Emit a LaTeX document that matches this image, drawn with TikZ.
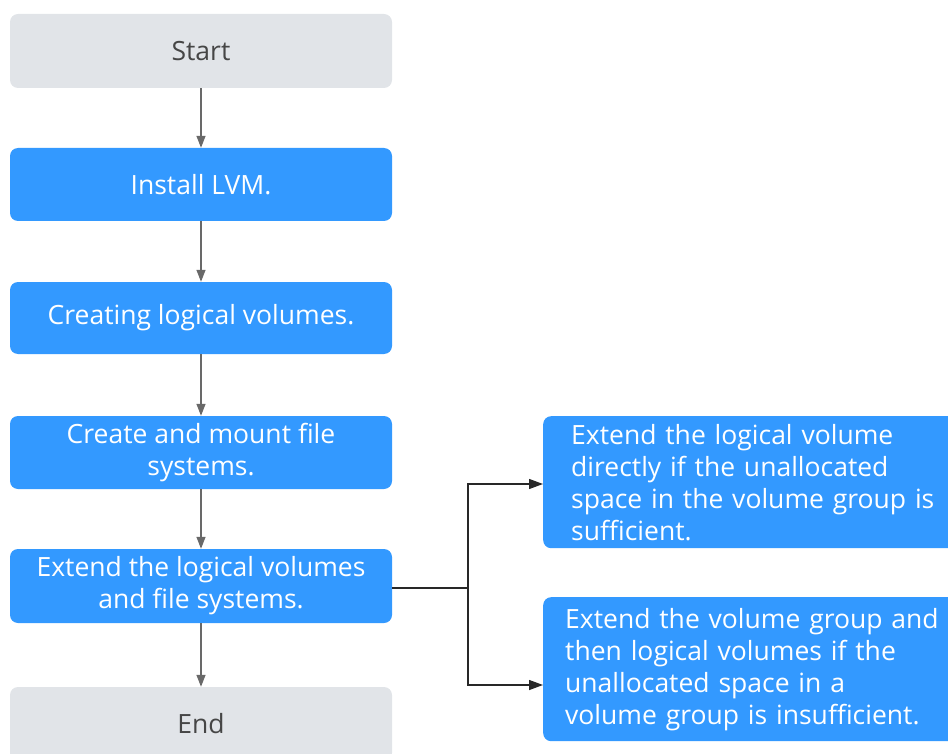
\documentclass[tikz,border=0pt]{standalone}
\usepackage{fontspec}
\setmainfont{Open Sans}
\usetikzlibrary{arrows.meta}
\definecolor{boxblue}{RGB}{51,153,255}
\definecolor{boxgray}{RGB}{225,228,232}
\definecolor{txtgray}{RGB}{70,70,70}
\definecolor{arrgray}{RGB}{105,105,105}
\definecolor{arrdark}{RGB}{40,40,40}
\begin{document}
\begin{tikzpicture}[x=1pt,y=-1pt,
  base/.style={rectangle,rounded corners=8pt,minimum width=382pt,inner sep=0pt,align=center,font=\fontsize{26.5}{32}\selectfont},
  bluebox/.style={base,fill=boxblue,text=white},
  graybox/.style={base,fill=boxgray,text=txtgray},
  sidebox/.style={rectangle,rounded corners=8pt,fill=boxblue,text=white,anchor=north west,align=left,inner ysep=0pt,text width=390pt,font=\fontsize{26.5}{32}\selectfont},
  vflow/.style={draw=arrgray,line width=1.3pt,-{Triangle[length=12pt,width=9pt]}},
  fork/.style={draw=arrdark,line width=1.3pt},
  forkarr/.style={fork,-{Triangle[length=14pt,width=10pt]}}
]
\useasboundingbox (0,0) rectangle (948,754);
\begin{scope}
\clip (0,0) rectangle (948,754);
\node[graybox,minimum height=74pt] (start) at (201,51) {Start};
\node[bluebox,minimum height=73pt] (install) at (201,184.5) {Install LVM.};
\node[bluebox,minimum height=72pt] (create) at (201,318) {Creating logical volumes.};
\node[bluebox,minimum height=73pt] (mount) at (201,452.5) {Create and mount file\\systems.};
\node[bluebox,minimum height=74pt] (extend) at (201,586) {Extend the logical volumes\\and file systems.};
\node[graybox,minimum height=74pt] (end) at (201,724) {End};
\node[sidebox,minimum height=132pt,inner xsep=28pt] (right1) at (543,416) {Extend the logical volume\\directly if the unallocated\\space in the volume group is\\sufficient.};
\node[sidebox,minimum height=144pt,inner xsep=22pt] (right2) at (543,597) {Extend the volume group and\\then logical volumes if the\\unallocated space in a\\volume group is insufficient.};
\end{scope}
\draw[vflow] (start) -- (install);
\draw[vflow] (install) -- (create);
\draw[vflow] (create) -- (mount);
\draw[vflow] (mount) -- (extend);
\draw[vflow] (extend) -- (end);
\coordinate (fk) at (468,588);
\draw[fork] ([yshift=-2pt]extend.east) -- (fk);
\draw[forkarr] (fk) |- (right1.west |- 0,484);
\draw[forkarr] (fk) |- (right2.west |- 0,685);
\end{tikzpicture}
\end{document}
